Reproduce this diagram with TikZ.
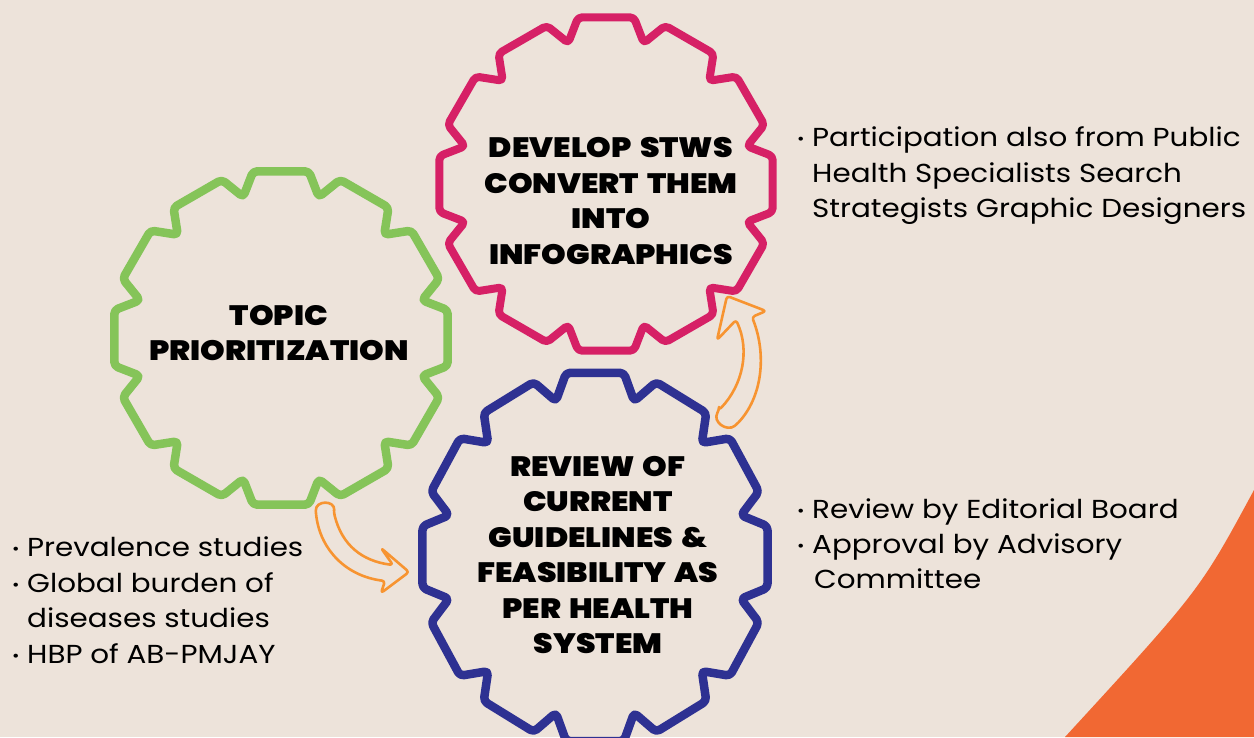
\documentclass[tikz,border=0pt]{standalone}
\usepackage{fontspec}
\setmainfont{Poppins}[FakeStretch=1.13]
\newfontfamily\heavy{Poppins Black}[FakeStretch=1.12, WordSpace=1.5]
\definecolor{bg}{HTML}{EDE3DA}
\definecolor{ggreen}{HTML}{85C459}
\definecolor{gpink}{HTML}{D62066}
\definecolor{gblue}{HTML}{2E3192}
\definecolor{aorange}{HTML}{F79431}
\definecolor{corner}{HTML}{F16833}
\def\gearpath#1#2{(75:#2) \foreach \a in {90,120,...,390}{ -- (\a-9.5:#1) -- (\a+9.5:#1) -- (\a+15:#2)} -- (410.5:#1) -- (429.5:#1) -- cycle}
\tikzset{
  gearline/.style={line width=8.5pt, rounded corners=4pt, line join=round},
  head/.style={font=\heavy\fontsize{28}{35.5}\selectfont, align=center, inner sep=0pt, text=black},
  body/.style={font=\fontsize{26}{26}\selectfont, anchor=base west, inner sep=0pt, text=black},
  hollowarrow/.style={draw=aorange, fill=bg, line width=2.6pt, rounded corners=3pt, line join=round},
}
\newcommand\bul{\makebox[15pt][l]{\raisebox{1.5pt}{\fontsize{16}{16}\selectfont •}}}
\begin{document}
\begin{tikzpicture}[x=1pt,y=-1pt]
\fill[bg] (0,0) rectangle (1254,737);
\useasboundingbox (0,0) rectangle (1254,737);
% orange corner
\fill[corner] (1254,490) .. controls (1200,590) .. (1065,737) -- (1254,737) -- cycle;

% gears
\coordinate (gc) at (281,338);
\coordinate (pc) at (606,184);
\coordinate (bc) at (595,557);
\begin{scope}[shift={(gc)}]
  \draw[gearline, ggreen] \gearpath{169}{146};
\end{scope}
\begin{scope}[shift={(pc)}]
  \draw[gearline, gpink, line width=8pt] \gearpath{169}{146};
\end{scope}
\begin{scope}[shift={(bc)}, xscale=1.035, yscale=1.105]
  \draw[gearline, gblue] \gearpath{169}{146};
\end{scope}

% arrows
\draw[hollowarrow] (334,513) .. controls (342,545) and (362,561) .. (393,565)
   -- (381,548) -- (409,572) -- (381,593) -- (385,581)
   .. controls (346,576) and (321,550) .. (316,514)
   .. controls (315,500) and (335,500) .. (334,513) -- cycle;
\draw[hollowarrow] (719,410) .. controls (743,385) and (750,350) .. (736,320)
   -- (717,340) -- (727,296) -- (766,311) -- (752,317)
   .. controls (767,355) and (762,397) .. (737,424)
   .. controls (727,432) and (712,422) .. (719,410) -- cycle;

% gear labels
\node[head] (topic) at (279,333) {TOPIC\\PRIORITIZATION};
\node[head] (develop) at (611,201) {DEVELOP STWS\\CONVERT THEM\\INTO\\INFOGRAPHICS};
\node[head] (review) at (598,555) {REVIEW OF\\CURRENT\\GUIDELINES \&\\FEASIBILITY AS\\PER HEALTH\\SYSTEM};

% right top text
\node[body] (p1) at (797,146) {\bul Participation also from Public};
\node[body] (p2) at (812,182) {Health Specialists Search};
\node[body] (p3) at (812,217) {Strategists Graphic Designers};
% right bottom text
\node[body] (q1) at (797,518) {\bul Review by Editorial Board};
\node[body] (q2) at (797,553) {\bul Approval by Advisory};
\node[body] (q3) at (814,588) {Committee};
% left text
\node[body] (l1) at (12,556) {\bul Prevalence studies};
\node[body] (l2) at (12,592) {\bul Global burden of};
\node[body] (l3) at (27,627) {diseases studies};
\node[body] (l4) at (12,663) {\bul HBP of AB-PMJAY};
\end{tikzpicture}
\end{document}
